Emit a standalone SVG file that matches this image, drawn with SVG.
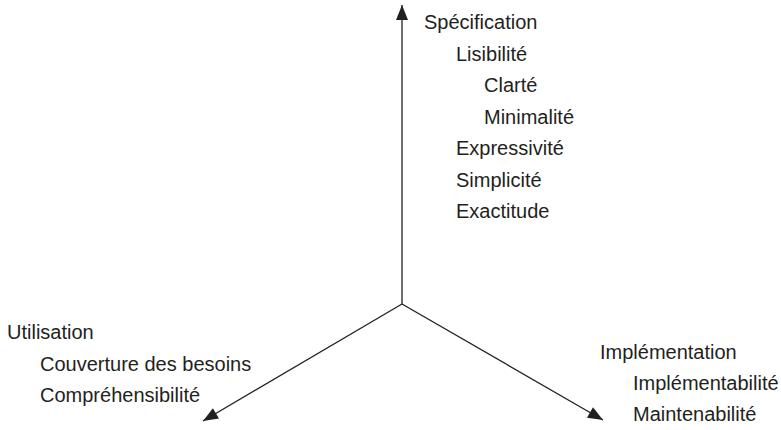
<svg xmlns="http://www.w3.org/2000/svg" width="781" height="430" viewBox="0 0 781 430">
<style>
text{font-family:"Liberation Sans",Arial,sans-serif;font-size:20px;fill:#231f20}
.ax{stroke:#231f20;stroke-width:1.3;fill:none;marker-end:url(#ah)}
</style>
<defs>
<marker id="ah" markerUnits="userSpaceOnUse" markerWidth="20" markerHeight="16" viewBox="-16 -8 18 16" refX="0" refY="0" orient="auto">
<path d="M0,0 L-15,-6 L-15,6 Z" fill="#231f20"/>
</marker>
</defs>
<rect width="781" height="430" fill="#fff"/>
<g id="connectors">
<line class="ax" x1="402" y1="304" x2="402" y2="5"/>
<line class="ax" x1="402" y1="304" x2="203" y2="421"/>
<line class="ax" x1="402" y1="304" x2="603" y2="420"/>
</g>
<g id="specification">
<text x="424" y="29">Spécification</text>
<text x="456" y="60.5">Lisibilité</text>
<text x="484" y="92">Clarté</text>
<text x="484" y="123.5">Minimalité</text>
<text x="456" y="155">Expressivité</text>
<text x="456" y="186.5">Simplicité</text>
<text x="456" y="218">Exactitude</text>
</g>
<g id="utilisation">
<text x="7" y="339">Utilisation</text>
<text x="40" y="370.5">Couverture des besoins</text>
<text x="40" y="402">Compréhensibilité</text>
</g>
<g id="implementation">
<text x="600" y="359">Implémentation</text>
<text x="633" y="390">Implémentabilité</text>
<text x="633" y="421">Maintenabilité</text>
</g>
</svg>
